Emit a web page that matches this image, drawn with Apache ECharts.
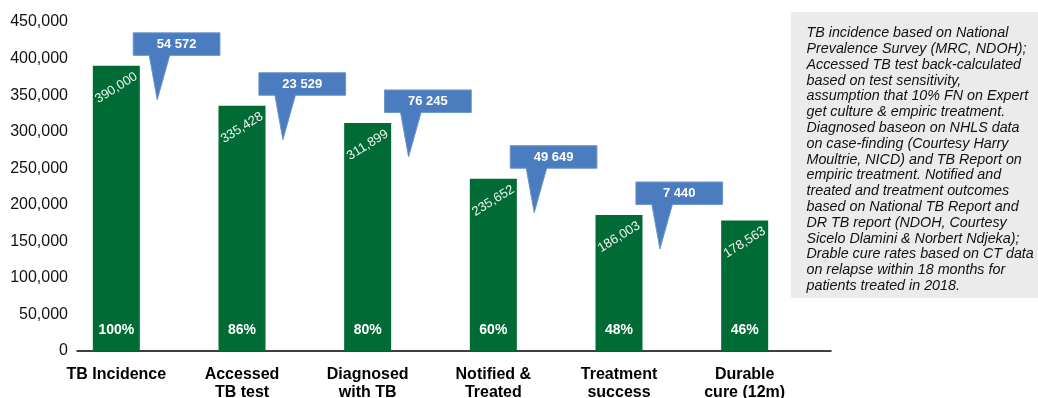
<!DOCTYPE html>
<html>
<head>
<meta charset="utf-8">
<script src="https://cdn.jsdelivr.net/npm/echarts@6/dist/echarts.min.js"></script>
<style>
  html, body { margin: 0; padding: 0; background: #fff; }
  #chart { width: 1038px; height: 398px; }
</style>
</head>
<body>
<div id="chart"></div>
<script>
// TB care cascade: people remaining at each step
const categories = ['TB Incidence', 'Accessed\nTB test', 'Diagnosed\nwith TB', 'Notified &\nTreated', 'Treatment\nsuccess', 'Durable\ncure (12m)'];
const patients = [390000, 335428, 311899, 235652, 186003, 178563];
const retainedShare = ['100%', '86%', '80%', '60%', '48%', '46%'];
// people lost between one step and the next
const lostBetweenSteps = ['54 572', '23 529', '76 245', '49 649', '7 440'];
const yMax = 450000;
const yStep = 50000;
const noteLines = [
  'TB incidence based on National',
  'Prevalence Survey (MRC, NDOH);',
  'Accessed TB test back-calculated',
  'based on test sensitivity,',
  'assumption that 10% FN on Expert',
  'get culture & empiric treatment.',
  'Diagnosed baseon on NHLS data',
  'on case-finding (Courtesy Harry',
  'Moultrie, NICD) and TB Report on',
  'empiric treatment. Notified and',
  'treated and treatment outcomes',
  'based on National TB Report and',
  'DR TB report (NDOH, Courtesy',
  'Sicelo Dlamini & Norbert Ndjeka);',
  'Drable cure rates based on CT data',
  'on relapse within 18 months for',
  'patients treated in 2018.'
];

const FONT = '"Liberation Sans", Arial, sans-serif';
const GREEN = '#006b34';
const BLUE = '#4a7cbf';
const BAR_W = 47;

const chart = echarts.init(document.getElementById('chart'));

// percentage labels inside each bar plus the "lost" callouts between bars
function renderOverlay(params, api) {
  const i = api.value(0);
  const v = api.value(1);
  const base = api.coord([i, 0]);
  const top = api.coord([i, v]);
  const cx = base[0];
  const barCx = cx - BAR_W / 2;
  const children = [{
    type: 'text',
    style: {
      x: barCx, y: base[1] - 21,
      text: retainedShare[i],
      fill: '#fff',
      font: 'bold 14px ' + FONT,
      align: 'center', verticalAlign: 'middle'
    }
  }];
  if (i < lostBetweenSteps.length) {
    const L = cx - 6.6, T = top[1] - 33, W = 86.7, H = 22.5;
    const B = T + H;
    children.push({
      type: 'polygon',
      shape: {
        points: [[L, T], [L + W, T], [L + W, B], [L + 36.5, B], [L + 24, B + 44.5], [L + 16, B], [L, B]]
      },
      style: { fill: BLUE, stroke: '#6b95cc', lineWidth: 1 }
    });
    children.push({
      type: 'text',
      style: {
        x: L + W / 2, y: T + H / 2,
        text: lostBetweenSteps[i],
        fill: '#fff',
        font: 'bold 13px ' + FONT,
        align: 'center', verticalAlign: 'middle'
      }
    });
  }
  return { type: 'group', children: children };
}

chart.setOption({
  animation: false,
  textStyle: { fontFamily: FONT },
  grid: { left: 77, right: 207, top: 22, bottom: 47, containLabel: false, outerBoundsMode: 'none' },
  xAxis: {
    type: 'category',
    data: categories,
    axisTick: { show: false },
    axisLine: { lineStyle: { color: '#000', width: 1.5 } },
    axisLabel: {
      margin: 15,
      interval: 0,
      formatter: v => v.split('\n').map(s => '{t|' + s + '}').join('\n'),
      rich: {
        t: {
          fontFamily: FONT, fontSize: 16, fontWeight: 'bold', color: '#000',
          lineHeight: 18, padding: [0, BAR_W, 0, 0]
        }
      }
    }
  },
  yAxis: {
    type: 'value',
    min: 0, max: yMax, interval: yStep,
    axisLine: { show: false },
    axisTick: { show: false },
    splitLine: { show: false },
    axisLabel: {
      margin: 9,
      fontSize: 16, color: '#111', fontFamily: FONT,
      formatter: v => v.toLocaleString('en-US')
    }
  },
  series: [
    {
      type: 'bar',
      data: patients,
      barWidth: BAR_W,
      barGap: '0%',
      itemStyle: { color: GREEN },
      label: {
        show: true,
        position: ['50%', 22],
        align: 'center', verticalAlign: 'middle',
        rotate: 32,
        color: '#f2f2f2',
        fontSize: 13, fontFamily: FONT,
        formatter: p => p.value.toLocaleString('en-US')
      }
    },
    {
      // empty companion column, keeps the green bars left of the category centre
      type: 'bar',
      data: patients.map(() => '-'),
      barWidth: BAR_W,
      barGap: '0%',
      itemStyle: { color: 'transparent' },
      silent: true
    },
    {
      type: 'custom',
      data: patients.map((v, i) => [i, v]),
      encode: { x: 0, y: 1 },
      renderItem: renderOverlay,
      silent: true,
      z: 5
    }
  ],
  graphic: [
    {
      type: 'rect', left: 791, top: 12, z: 10,
      shape: { width: 247, height: 286 },
      style: { fill: '#ebebeb' }
    },
    {
      type: 'text', left: 806.5, top: 25.4, z: 11,
      style: {
        text: noteLines.join('\n'),
        font: 'italic 14.3px ' + FONT,
        lineHeight: 15.8,
        fill: '#111'
      }
    }
  ]
});
</script>
</body>
</html>
